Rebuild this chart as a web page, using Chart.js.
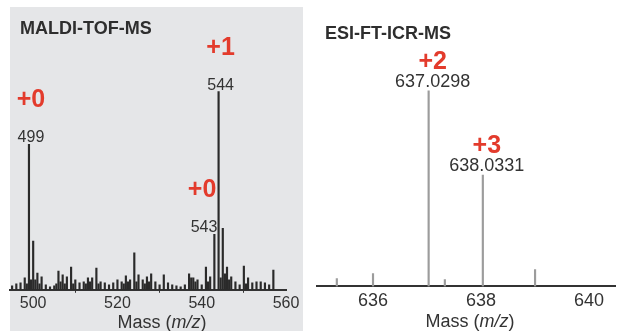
<!DOCTYPE html>
<html>
<head>
<meta charset="utf-8">
<script src="https://cdn.jsdelivr.net/npm/chart.js@4"></script>
<style>
  body { margin: 0; background: #fff; font-family: "Liberation Sans", Arial, sans-serif; }
  #wrap { position: relative; width: 625px; height: 331px; overflow: hidden; }
  #panel { position: absolute; left: 10px; top: 7px; width: 293px; height: 324px; background: #e5e6e8; }
  canvas { position: absolute; top: 0; }
  .title { position: absolute; font-weight: bold; font-size: 18px; line-height: 18px; color: #2e2e2e; white-space: nowrap; }
  .axt { position: absolute; font-size: 18px; line-height: 18px; color: #333; white-space: nowrap; transform: translateX(-50%); }
</style>
</head>
<body>
<div id="wrap">
  <div id="panel"></div>
  <canvas id="maldi" width="310" height="331" style="left:0"></canvas>
  <canvas id="esi" width="315" height="331" style="left:310px"></canvas>
  <div class="title" style="left:20px;top:19px">MALDI-TOF-MS</div>
  <div class="title" style="left:325px;top:24px">ESI-FT-ICR-MS</div>
  <div class="axt" style="left:162px;top:313px">Mass (<i>m/z</i>)</div>
  <div class="axt" style="left:470px;top:312px">Mass (<i>m/z</i>)</div>
</div>
<script>
// MALDI-TOF-MS peaks (relative intensity, 544 = 100)
const maldiMass = [495, 496, 497, 498, 498.5, 499, 499.5, 500, 500.5, 501, 501.5, 502, 503, 504, 505, 505.5,
  506, 506.5, 507, 507.5, 508, 509, 509.5, 510, 511, 512, 512.5, 513, 513.5, 514, 515, 515.5, 516, 517, 518,
  519, 520, 521, 521.5, 522, 522.5, 523, 524, 524.5, 525, 526, 526.5, 527, 527.5, 528, 529, 530, 531, 532,
  533, 534, 535, 536, 537, 537.5, 538, 538.5, 539, 540, 541, 541.5, 542, 543, 544, 544.5, 545, 545.5, 546,
  546.5, 547, 548, 549, 550, 550.5, 551, 552, 553, 554, 555, 556, 557];
const maldiIntensity = [2, 3, 3.5, 6, 3, 73.4, 5, 24.6, 5, 8.5, 3, 6.5, 2.5, 1.5, 2, 3,
  9.5, 4, 7.5, 3, 6.5, 11.5, 3, 5, 3.5, 4, 3, 6, 4, 6, 11, 3, 4, 3.5, 2.5,
  3.5, 5, 4, 3, 7, 4, 5, 18.6, 4, 7.5, 5, 3, 6.5, 4, 8, 4, 2.5, 7.5, 3.5,
  2.5, 2, 1.5, 2.5, 8, 6, 6, 4, 5, 2.5, 11.5, 4, 6.5, 28, 100, 6, 31, 8, 11.5,
  5, 6.5, 4, 2.5, 12, 3, 6, 3.5, 4, 4, 3.5, 2.5, 10];
const maldiTicks = [500, 520, 540, 560];
const maldiPeakMass = [499, 544, 543];
const maldiPeakText = ['499', '544', '543'];
const maldiCharge = ['+0', '+1', '+0'];

// ESI-FT-ICR-MS peaks (relative intensity, 637.0298 = 100)
const esiMass = [635.33, 636.0, 637.0298, 637.33, 638.0331, 639.0];
const esiIntensity = [4, 6.5, 100, 3.5, 57, 8.6];
const esiTicks = [636, 638, 640];
const esiPeakMass = [637.0298, 638.0331];
const esiPeakText = ['637.0298', '638.0331'];
const esiCharge = ['+2', '+3'];

const FONT = '"Liberation Sans", Arial, sans-serif';

// draws charge state and m/z above labelled peaks, anchored on the scales
const peakLabels = {
  id: 'peakLabels',
  afterDatasetsDraw(chart, args, o) {
    const ctx = chart.ctx, xs = chart.scales.x, ys = chart.scales.y;
    const mass = o.mass, inten = o.intensity;
    ctx.save();
    o.peaks.forEach((m, i) => {
      const idx = mass.indexOf(m);
      const x = xs.getPixelForValue(m);
      const y = ys.getPixelForValue(inten[idx]);
      const right = o.align && o.align[i] === 'right';
      ctx.textAlign = right ? 'right' : 'center';
      ctx.textBaseline = 'alphabetic';
      ctx.fillStyle = '#333';
      ctx.font = o.numSize + 'px ' + FONT;
      ctx.fillText(o.text[i], x + (right ? 3 : o.dx), y - o.numGap);
      ctx.fillStyle = '#e33b2c';
      ctx.font = 'bold ' + o.chgSize + 'px ' + FONT;
      ctx.fillText(o.charge[i], x + (right ? 2 : o.dx), y - o.chgGap);
    });
    ctx.restore();
  }
};

function makeChart(id, mass, inten, ticks, min, max, ymax, color, tickSize, pad, drawTicks, labels) {
  return new Chart(document.getElementById(id), {
    type: 'bar',
    data: {
      datasets: [{
        data: mass.map((m, i) => ({ x: m, y: inten[i] })),
        backgroundColor: color,
        barThickness: 1.5
      }]
    },
    options: {
      responsive: false,
      animation: false,
      devicePixelRatio: 1,
      layout: { padding: pad },
      plugins: { legend: { display: false }, tooltip: { enabled: false }, peakLabels: labels },
      scales: {
        x: {
          type: 'linear', min: min, max: max, offset: false,
          afterBuildTicks: axis => { axis.ticks = ticks.map(v => ({ value: v })); },
          grid: { display: true, drawOnChartArea: false, drawTicks: drawTicks, tickLength: 3, color: '#333' },
          border: { display: true, color: '#333', width: 2 },
          ticks: { color: '#333', padding: drawTicks ? 1 : 4, maxRotation: 0, font: { family: FONT, size: tickSize } }
        },
        y: { display: false, min: 0, max: ymax }
      }
    },
    plugins: [peakLabels]
  });
}

makeChart('maldi', maldiMass, maldiIntensity, maldiTicks, 494.5, 560, 141.2, '#2a2a2a', 16,
  { left: 10, right: 24, top: 10, bottom: 17 }, true,
  { mass: maldiMass, intensity: maldiIntensity, peaks: maldiPeakMass, text: maldiPeakText, charge: maldiCharge,
    align: ['center', 'center', 'right'], dx: 2, numGap: 2, chgGap: 37, numSize: 16, chgSize: 25 });

makeChart('esi', esiMass, esiIntensity, esiTicks, 634.963, 640.48, 141.4, '#9c9c9c', 18,
  { left: 7, right: 10, top: 10, bottom: 15 }, false,
  { mass: esiMass, intensity: esiIntensity, peaks: esiPeakMass, text: esiPeakText, charge: esiCharge,
    dx: 4, numGap: 4, chgGap: 22, numSize: 18, chgSize: 25 });
</script>
</body>
</html>
